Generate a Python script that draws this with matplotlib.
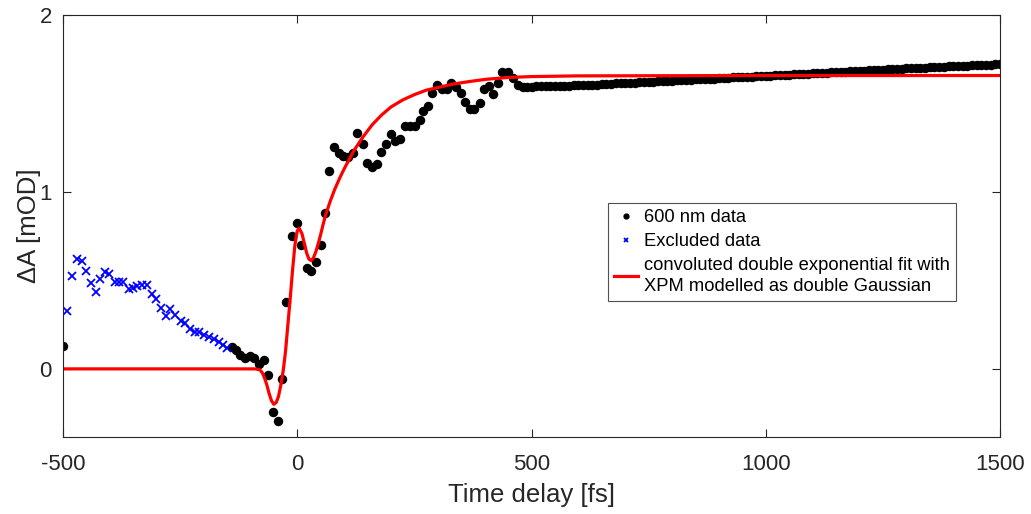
import numpy as np
import matplotlib
matplotlib.use('Agg')
import matplotlib.pyplot as plt

plt.rcParams['font.family'] = ['Liberation Sans', 'DejaVu Sans']
plt.rcParams['axes.unicode_minus'] = False

# 600 nm data (black dots), time in fs, dA in mOD
t_data = [-500, -140, -131, -122, -112, -101, -92, -81, -70, -62, -51, -41, -32, -23,
          -12, -1, 7, 20, 29, 39, 50, 59, 68, 78, 89, 98, 109, 120, 128, 140, 148,
          160, 170, 179, 189, 199, 209, 219, 230, 241, 251, 261, 269, 278, 288, 299,
          308, 319, 328, 338, 349, 358, 369, 377, 389, 399, 410, 418, 429, 438, 449,
          460, 471, 481]
a_data = [0.13, 0.122, 0.105, 0.078, 0.060, 0.073, 0.060, 0.025, 0.050, -0.034, -0.241,
          -0.296, -0.056, 0.376, 0.753, 0.823, 0.700, 0.569, 0.554, 0.602, 0.700, 0.883,
          1.12, 1.252, 1.218, 1.205, 1.196, 1.222, 1.335, 1.271, 1.162, 1.143, 1.158,
          1.228, 1.271, 1.328, 1.290, 1.298, 1.375, 1.375, 1.375, 1.407, 1.459, 1.486,
          1.557, 1.605, 1.580, 1.580, 1.618, 1.595, 1.561, 1.510, 1.467, 1.467, 1.505,
          1.580, 1.599, 1.552, 1.614, 1.680, 1.680, 1.642, 1.605, 1.593]
# long-time tail, sampled every 10 fs from 490 to 1500 fs
t_tail = np.arange(490, 1501, 10)
a_tail = [1.594, 1.595, 1.596, 1.596, 1.597, 1.598, 1.598, 1.599, 1.600, 1.601,
          1.602, 1.603, 1.604, 1.605, 1.606, 1.607, 1.609, 1.610, 1.611, 1.613,
          1.614, 1.616, 1.617, 1.618, 1.620, 1.621, 1.622, 1.624, 1.625, 1.626,
          1.628, 1.629, 1.630, 1.632, 1.633, 1.634, 1.636, 1.637, 1.638, 1.640,
          1.641, 1.642, 1.644, 1.645, 1.647, 1.648, 1.649, 1.651, 1.652, 1.654,
          1.655, 1.656, 1.658, 1.659, 1.661, 1.662, 1.663, 1.665, 1.666, 1.668,
          1.669, 1.670, 1.672, 1.673, 1.675, 1.676, 1.677, 1.679, 1.680, 1.682,
          1.683, 1.685, 1.686, 1.688, 1.689, 1.690, 1.692, 1.693, 1.694, 1.696,
          1.697, 1.698, 1.700, 1.701, 1.702, 1.703, 1.705, 1.706, 1.707, 1.708,
          1.710, 1.711, 1.712, 1.713, 1.714, 1.716, 1.717, 1.718, 1.719, 1.720,
          1.721, 1.722]

# excluded data (blue crosses)
t_excl = [-491, -481, -471, -460, -451, -441, -430, -421, -410, -401, -390, -380,
          -371, -359, -350, -341, -331, -320, -311, -301, -291, -281, -272, -261,
          -249, -240, -229, -218, -209, -199, -188, -178, -168, -159, -151]
a_excl = [0.328, 0.527, 0.621, 0.612, 0.555, 0.488, 0.437, 0.507, 0.546, 0.535,
          0.493, 0.493, 0.493, 0.450, 0.456, 0.469, 0.475, 0.475, 0.422, 0.395,
          0.346, 0.301, 0.337, 0.305, 0.271, 0.258, 0.224, 0.211, 0.211, 0.192,
          0.182, 0.168, 0.154, 0.136, 0.117]

# fit curve
t_fit = [-500, -90, -80, -75, -70, -65, -60, -55, -50, -45, -40, -35, -30, -25, -20,
         -15, -10, -5, 0, 4, 10, 15, 20, 25, 30, 35, 40, 45, 50, 55, 60, 70, 80, 90,
         100, 120, 140, 160, 180, 200, 225, 250, 275, 300, 333, 370, 404, 450, 500,
         600, 800, 1000, 1500]
a_fit = [0.0, 0.0, -0.005, -0.02, -0.05, -0.09, -0.14, -0.18, -0.20, -0.19, -0.155,
         -0.09, -0.01, 0.10, 0.25, 0.40, 0.56, 0.70, 0.78, 0.795, 0.765, 0.71, 0.655,
         0.62, 0.612, 0.63, 0.665, 0.71, 0.76, 0.815, 0.865, 0.945, 1.015, 1.075,
         1.13, 1.23, 1.31, 1.38, 1.435, 1.48, 1.52, 1.55, 1.575, 1.59, 1.61, 1.625,
         1.637, 1.647, 1.652, 1.656, 1.657, 1.658, 1.658]

fig = plt.figure(figsize=(10.31, 5.14), dpi=100)
ax = fig.add_axes([0.0611, 0.1498, 0.9089, 0.821])

ax.plot(list(t_data) + list(t_tail), list(a_data) + list(a_tail), 'o', color='black',
        markersize=5.8, label='600 nm data')
ax.plot(t_excl, a_excl, 'x', color='#0000ff', markersize=5.2, markeredgewidth=1.3,
        label='Excluded data')
ax.plot(t_fit, a_fit, '-', color='#ff0000', linewidth=2.3,
        label='convoluted double exponential fit with\nXPM modelled as double Gaussian')

ax.set_xlim(-500, 1500)
ax.set_ylim(-0.385, 2)
ax.set_xticks([-500, 0, 500, 1000, 1500])
ax.set_yticks([0, 1, 2])
ax.tick_params(direction='in', length=6, width=0.8, labelsize=16, colors='#262626',
               top=True, right=True)
ax.tick_params(axis='y', pad=8)
ax.tick_params(axis='x', pad=12)
for s in ax.spines.values():
    s.set_color('#262626')
    s.set_linewidth(0.8)

ax.set_xlabel('Time delay [fs]', fontsize=18.5, color='#262626', labelpad=6)
ax.set_ylabel('\u0394A [mOD]', fontsize=18.5, color='#262626', labelpad=-1)

leg = ax.legend(loc='upper left', bbox_to_anchor=(0.5815, 0.555), fontsize=13.2,
                frameon=True, fancybox=False, edgecolor='#262626', handlelength=1.3,
                handletextpad=0.3, borderpad=0.35, borderaxespad=0,
                labelspacing=0.38, markerscale=0.6)
leg.get_frame().set_linewidth(0.8)
for txt in leg.get_texts():
    txt.set_linespacing(1.3)

fig.savefig('out.png', dpi=100)
